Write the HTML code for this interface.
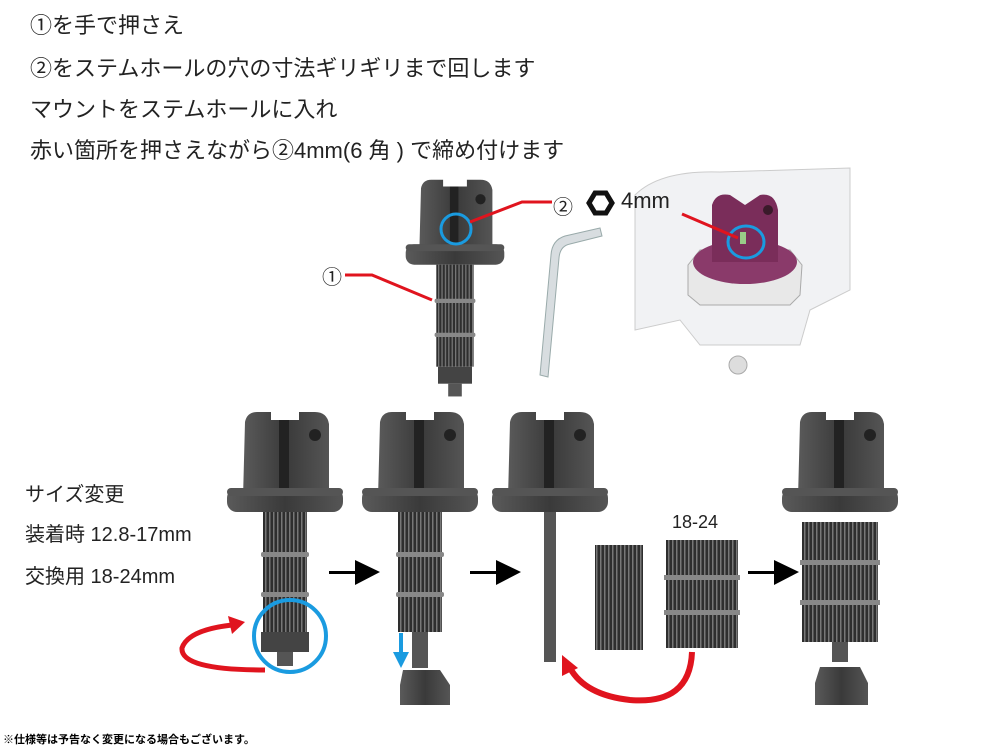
<!DOCTYPE html>
<html><head><meta charset="utf-8"><style>
body{margin:0;background:#fff;}
.t{position:absolute;z-index:2;font-family:"Liberation Sans","Noto Sans CJK JP",sans-serif;color:#222;white-space:nowrap;}
</style></head><body>
<div style="position:relative;width:1000px;height:750px;overflow:hidden">
<svg width="1000" height="750" style="position:absolute;left:0;top:0;z-index:1">
<defs>
<linearGradient id="g" x1="0" x2="1"><stop offset="0" stop-color="#5a5a5a"/><stop offset=".5" stop-color="#3a3a3a"/><stop offset="1" stop-color="#555"/></linearGradient>
<pattern id="rib" width="4" height="10" patternUnits="userSpaceOnUse"><rect width="4" height="10" fill="#2e2e2e"/><rect width="1.5" height="10" fill="#777"/></pattern>
<g id="head">
<path d="M-42,88 L-40,12 Q-38,2 -28,2 L-14,2 L-14,10 L14,10 L14,2 L30,2 Q42,2 44,14 L44,88 Z" fill="url(#g)"/>
<circle cx="30" cy="25" r="6" fill="#222"/>
<rect x="-6" y="10" width="10" height="70" fill="#222"/>
<rect x="-58" y="78" width="116" height="24" rx="10" fill="url(#g)"/>
<rect x="-58" y="78" width="116" height="8" rx="4" fill="#555"/>
</g>
<g id="body">
<rect x="-22" y="102" width="44" height="120" fill="url(#rib)"/>
<rect x="-24" y="142" width="48" height="5" rx="2" fill="#888"/>
<rect x="-24" y="182" width="48" height="5" rx="2" fill="#888"/>
</g>
</defs>
<g transform="translate(455,178) scale(0.85)"><use href="#head"/><use href="#body"/>
<rect x="-20" y="222" width="40" height="20" fill="#444"/><rect x="-8" y="242" width="16" height="15" fill="#555"/></g>
<circle cx="456" cy="229" r="15" fill="none" stroke="#1a9be0" stroke-width="3"/>
<polyline points="470,222 522,202 552,202" fill="none" stroke="#e0141e" stroke-width="3"/>
<polyline points="345,275 372,275 432,300" fill="none" stroke="#e0141e" stroke-width="3"/>
<path d="M600,228 L565,236 Q552,240 551,255 L540,375 L548,377 L559,258 Q560,246 570,244 L602,236 Z" fill="#d8dde0" stroke="#9aa" stroke-width="1"/>
<polygon points="595,193 606,193 612,203 606,213 595,213 589,203" fill="#fff" stroke="#111" stroke-width="5"/>
<path d="M635,195 Q660,170 720,172 L850,168 L850,290 Q830,300 810,310 L800,345 L700,345 L680,320 L635,330 Z" fill="#f1f2f4" stroke="#ccc"/>
<polygon points="688,265 700,250 790,250 802,265 800,295 790,305 700,305 688,295" fill="#e8e8e8" stroke="#aaa"/>
<circle cx="738" cy="365" r="9" fill="#ddd" stroke="#aaa"/>
<ellipse cx="745" cy="262" rx="52" ry="22" fill="#8a3a6a"/>
<path d="M712,262 L712,205 Q716,192 730,195 L745,205 L760,195 Q775,192 778,210 L778,262 Z" fill="#7a2d5a"/>
<circle cx="768" cy="210" r="5" fill="#3a1a2a"/>
<rect x="740" y="232" width="6" height="12" fill="#9c8"/>
<ellipse cx="746" cy="242" rx="18" ry="16" fill="none" stroke="#1a9be0" stroke-width="3"/>
<line x1="682" y1="214" x2="738" y2="238" stroke="#e0141e" stroke-width="3"/>
<g transform="translate(285,410)"><use href="#head"/><use href="#body"/>
<rect x="-24" y="222" width="48" height="20" fill="#444"/><rect x="-8" y="242" width="16" height="14" fill="#555"/></g>
<circle cx="290" cy="636" r="36" fill="none" stroke="#1a9be0" stroke-width="4"/>
<path d="M265,670 Q180,670 182,648 Q188,630 232,625" fill="none" stroke="#e0141e" stroke-width="5"/>
<polygon points="245,622 228,616 232,634" fill="#e0141e"/>
<g transform="translate(420,410)"><use href="#head"/><use href="#body"/>
<rect x="-8" y="222" width="16" height="36" fill="#555"/></g>
<path d="M403,670 L440,670 L450,685 L450,705 L400,705 L400,685 Z" fill="url(#g)"/>
<line x1="401" y1="633" x2="401" y2="655" stroke="#1a9be0" stroke-width="4"/>
<polygon points="393,652 409,652 401,668" fill="#1a9be0"/>
<g transform="translate(550,410)"><use href="#head"/>
<rect x="-6" y="102" width="12" height="150" fill="#555"/></g>
<rect x="595" y="545" width="48" height="105" fill="url(#rib)"/>
<rect x="666" y="540" width="72" height="108" fill="url(#rib)"/>
<rect x="664" y="575" width="76" height="5" fill="#888"/><rect x="664" y="610" width="76" height="5" fill="#888"/>
<path d="M692,652 Q690,705 630,700 Q585,695 570,668" fill="none" stroke="#e0141e" stroke-width="6"/>
<polygon points="562,655 562,676 578,668" fill="#e0141e"/>
<g transform="translate(840,410)"><use href="#head"/>
<rect x="-38" y="112" width="76" height="120" fill="url(#rib)"/>
<rect x="-40" y="150" width="80" height="5" fill="#888"/><rect x="-40" y="190" width="80" height="5" fill="#888"/>
<rect x="-8" y="232" width="16" height="20" fill="#555"/></g>
<path d="M820,667 L860,667 L868,683 L868,705 L815,705 L815,683 Z" fill="url(#g)"/>
<g fill="#000">
<rect x="329" y="571" width="28" height="3"/><polygon points="355,560 380,572 355,585"/>
<rect x="470" y="571" width="28" height="3"/><polygon points="496,560 521,572 496,585"/>
<rect x="748" y="571" width="28" height="3"/><polygon points="774,560 799,572 774,585"/>
</g>
</svg>
<div class="t" style="left:30px;top:8px;font-size:22px">①を手で押さえ</div>
<div class="t" style="left:30px;top:51px;font-size:22px">②をステムホールの穴の寸法ギリギリまで回します</div>
<div class="t" style="left:30px;top:92px;font-size:22px">マウントをステムホールに入れ</div>
<div class="t" style="left:30px;top:133px;font-size:22px">赤い箇所を押さえながら②4mm(6 角 ) で締め付けます</div>
<div class="t" style="left:25px;top:478px;font-size:20px">サイズ変更</div>
<div class="t" style="left:25px;top:518px;font-size:20px">装着時 12.8-17mm</div>
<div class="t" style="left:25px;top:560px;font-size:20px">交換用 18-24mm</div>
<div class="t" style="left:672px;top:512px;font-size:18px">18-24</div>
<div class="t" style="left:322px;top:261px;font-size:20px">①</div>
<div class="t" style="left:553px;top:191px;font-size:20px">②</div>
<div class="t" style="left:621px;top:188px;font-size:22px">4mm</div>
<div class="t" style="left:3px;top:731px;font-size:11px;font-weight:bold;color:#000">※仕様等は予告なく変更になる場合もございます。</div>
</div>
</body></html>
